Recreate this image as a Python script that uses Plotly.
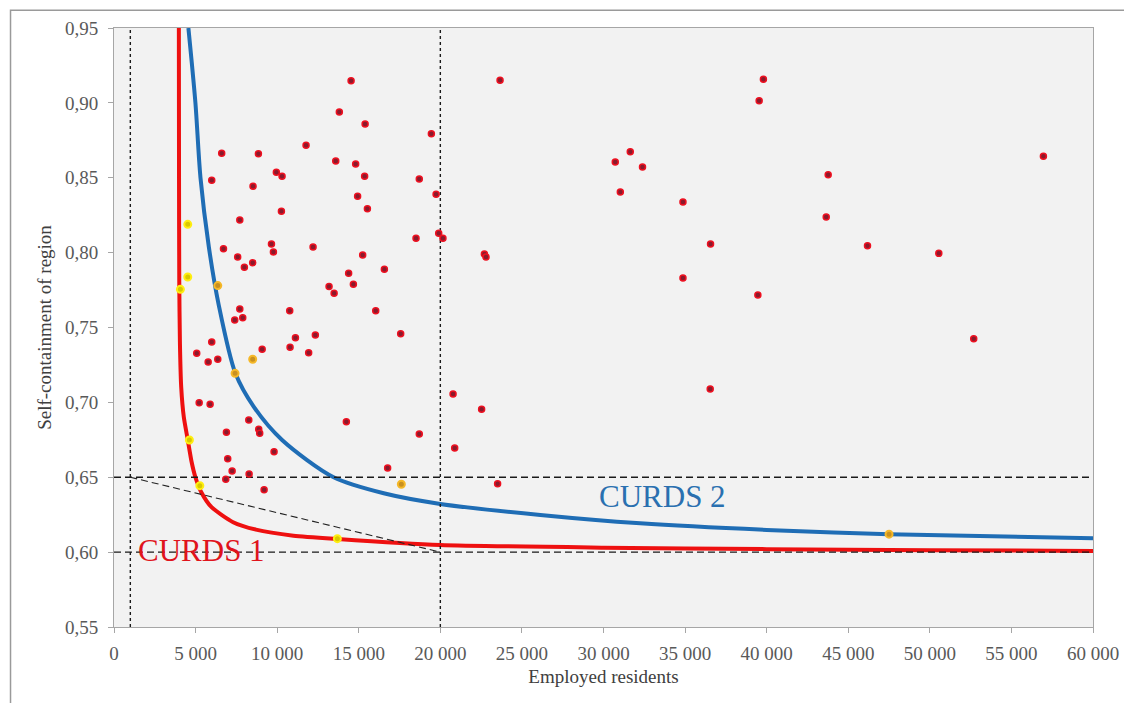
import plotly.graph_objects as go

# ---------------- data ----------------
# regions (employed residents, self-containment) - ordinary regions (red)
red_x = [14530, 13810, 15390, 19450, 11770, 6600, 8850, 13590, 14810, 9950,
         10300, 15360, 18710, 5990, 8520, 19740, 14930, 15530, 10260, 7710,
         18510, 19900, 20160, 6710, 9650, 9770, 12200, 15240, 7580, 8500,
         7990, 16570, 14380, 14670, 13180, 13490, 10770, 16040, 7710, 7400,
         7890, 17570, 5990, 11120, 12340,
         5070, 5770, 6360, 9080, 10790, 11930, 5220, 5890, 14240, 18710,
         8260, 8870, 8930, 6890, 9810, 6970, 7240, 6850, 8280, 9200, 16770,
         20780, 22530, 20880, 23510,
         23660, 39800, 39540, 31640, 30720, 32390, 31030, 34870, 36560, 34870,
         39460, 22700, 22800, 36540,
         56960, 43770, 43650, 46180, 50550, 52690]
red_y = [0.9148, 0.8939, 0.8859, 0.8794, 0.8717, 0.8663, 0.8661, 0.8612, 0.8592, 0.8536,
         0.8510, 0.8510, 0.8492, 0.8483, 0.8443, 0.8390, 0.8376, 0.8293, 0.8276, 0.8218,
         0.8096, 0.8129, 0.8096, 0.8026, 0.8058, 0.8004, 0.8038, 0.7984, 0.7971, 0.7933,
         0.7902, 0.7889, 0.7862, 0.7789, 0.7773, 0.7728, 0.7612, 0.7612, 0.7624, 0.7550,
         0.7565, 0.7459, 0.7403, 0.7432, 0.7450,
         0.7328, 0.7270, 0.7288, 0.7354, 0.7368, 0.7332, 0.6998, 0.6987, 0.6871, 0.6789,
         0.6882, 0.6820, 0.6793, 0.6800, 0.6671, 0.6624, 0.6542, 0.6486, 0.6522, 0.6417, 0.6562,
         0.7056, 0.6954, 0.6695, 0.6457,
         0.9151, 0.9157, 0.9015, 0.8674, 0.8605, 0.8572, 0.8405, 0.8338, 0.8058, 0.7831,
         0.7717, 0.7990, 0.7970, 0.7090,
         0.8643, 0.8520, 0.8238, 0.8046, 0.7995, 0.7425]

# regions lying on / near the CURDS 1 curve (yellow)
yellow_x = [4520, 4520, 4070, 4620, 5260, 13690]
yellow_y = [0.8189, 0.7837, 0.7755, 0.6749, 0.6444, 0.6090]

# regions lying on / near the CURDS 2 curve (orange)
orange_x = [6360, 8500, 7420, 17610, 47500]
orange_y = [0.7780, 0.7288, 0.7194, 0.6453, 0.6120]

# CURDS 1 threshold curve
curds1_x = [3975, 3985, 4000, 4040, 4120, 4280, 4520, 4760, 4990, 5350,
            5980, 7300, 8700, 11000, 13690, 20000, 30000, 40000, 50000, 60000]
curds1_y = [0.950, 0.850, 0.780, 0.740, 0.710, 0.690, 0.675, 0.660, 0.650, 0.640,
            0.630, 0.620, 0.615, 0.611, 0.6088, 0.6048, 0.6030, 0.6020, 0.6013, 0.6008]

# CURDS 2 threshold curve
curds2_x = [4560, 4990, 5300, 5810, 6420, 7440,
            8570, 10300, 13460, 16530, 20000, 26130, 32250, 40000, 47500, 60000]
curds2_y = [0.950, 0.900, 0.850, 0.804, 0.765, 0.7194,
            0.697, 0.6749, 0.650, 0.6393, 0.6322, 0.6248, 0.6192, 0.6148, 0.6119, 0.6092]

# reference (dashed) thresholds
min_size = [1000, 20000]
min_sc = [0.65, 0.60]
tradeoff_x = [1000, 20000]
tradeoff_y = [0.65, 0.60]

x_range = [0, 60000]
y_range = [0.55, 0.95]

curve_labels = ["CURDS 1", "CURDS 2"]
label_x = [5390, 33590]
label_y = [0.6008, 0.6371]

FONT = "Liberation Serif, Times New Roman, serif"
RED = "#ee1010"
BLUE = "#1f6db5"

fig = go.Figure()

# curves
fig.add_trace(go.Scatter(x=curds1_x, y=curds1_y, mode="lines",
                         line=dict(color=RED, width=4, shape="spline", smoothing=0.6),
                         hoverinfo="skip", showlegend=False))
fig.add_trace(go.Scatter(x=curds2_x, y=curds2_y, mode="lines",
                         line=dict(color=BLUE, width=4, shape="spline", smoothing=0.8),
                         hoverinfo="skip", showlegend=False))

# dashed reference lines
for xv in min_size:
    fig.add_trace(go.Scatter(x=[xv, xv], y=y_range, mode="lines",
                             line=dict(color="#1a1a1a", width=1.4, dash="3px,3px"),
                             hoverinfo="skip", showlegend=False))
for yv in min_sc:
    fig.add_trace(go.Scatter(x=x_range, y=[yv, yv], mode="lines",
                             line=dict(color="#1a1a1a", width=1.3, dash="7px,4px"),
                             hoverinfo="skip", showlegend=False))
fig.add_trace(go.Scatter(x=tradeoff_x, y=tradeoff_y, mode="lines",
                         line=dict(color="#222222", width=1.1, dash="7px,4px"),
                         hoverinfo="skip", showlegend=False))

# points
fig.add_trace(go.Scatter(x=red_x, y=red_y, mode="markers",
                         marker=dict(size=6, color="#8a1a2c",
                                     line=dict(color="#ee1020", width=1.5)),
                         showlegend=False))
fig.add_trace(go.Scatter(x=yellow_x, y=yellow_y, mode="markers",
                         marker=dict(size=7, color="#d8c800",
                                     line=dict(color="#ffee10", width=2)),
                         showlegend=False))
fig.add_trace(go.Scatter(x=orange_x, y=orange_y, mode="markers",
                         marker=dict(size=7, color="#c89020",
                                     line=dict(color="#f5b828", width=2)),
                         showlegend=False))

# curve labels
fig.add_annotation(x=label_x[0], y=label_y[0], text=curve_labels[0], showarrow=False,
                   font=dict(family=FONT, size=31, color="#e0141c"))
fig.add_annotation(x=label_x[1], y=label_y[1], text=curve_labels[1], showarrow=False,
                   font=dict(family=FONT, size=31, color="#2a70b0"))

# outer frame of the picture
fig.add_shape(type="rect", xref="paper", yref="paper",
              x0=-0.1057, x1=1.2, y0=-0.3, y1=1.0296,
              line=dict(color="#9a9a9a", width=1.5), fillcolor="rgba(0,0,0,0)", layer="below")

fig.update_layout(
    width=1124, height=703, autosize=False,
    margin=dict(l=113.5, r=31, t=27.7, b=76, autoexpand=False),
    paper_bgcolor="white", plot_bgcolor="#f2f2f2",
    font=dict(family=FONT, size=19, color="#595959"),
    separators=", ",
    xaxis=dict(range=x_range, dtick=5000, tick0=0, tickformat=",d", automargin=False,
               showgrid=False, zeroline=False, showline=True, linecolor="#a6a6a6",
               linewidth=1, mirror=True, ticks="outside", ticklen=5, tickcolor="#a6a6a6",
               ticklabelstandoff=4,
               title=dict(text="Employed residents", standoff=6,
                          font=dict(family=FONT, size=19, color="#404040"))),
    yaxis=dict(range=y_range, dtick=0.05, tick0=0.55, tickformat=".2f", automargin=False,
               showgrid=False, zeroline=False, showline=True, linecolor="#a6a6a6",
               linewidth=1, mirror=True, ticks="outside", ticklen=5, tickcolor="#a6a6a6",
               ticklabelstandoff=6,
               title=dict(text="Self-containment of region", standoff=8,
                          font=dict(family=FONT, size=19, color="#404040"))),
)

fig.write_html("out.html",
               config={"responsive": False, "displayModeBar": False},
               post_script="document.body.style.margin='0';document.body.style.overflow='hidden';")
